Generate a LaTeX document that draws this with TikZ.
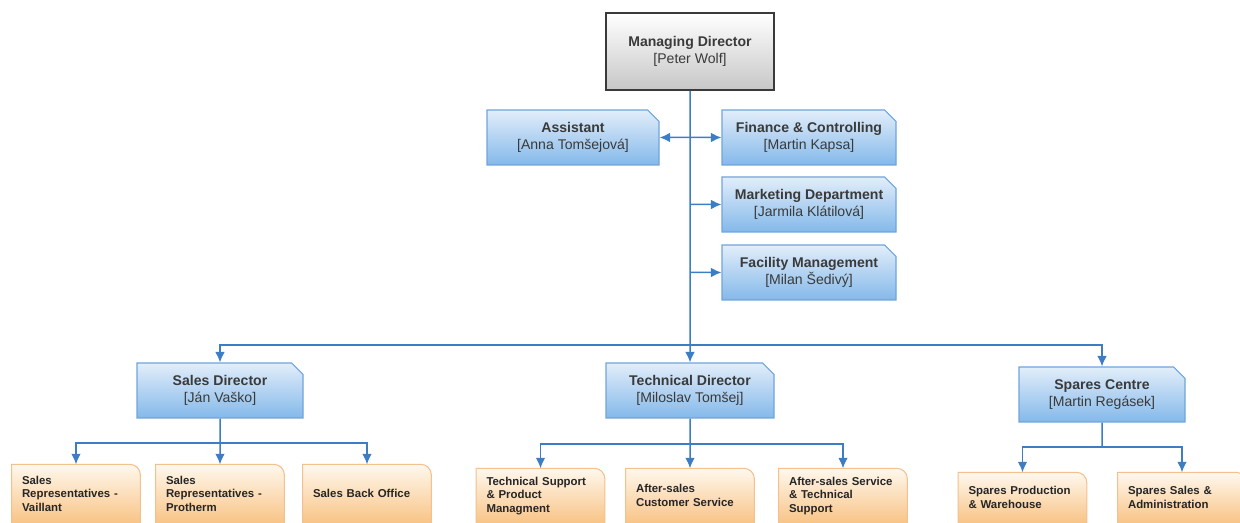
\documentclass[tikz,border=0pt]{standalone}
\usepackage{fontspec}
\setmainfont{Liberation Sans}
\usetikzlibrary{arrows.meta,positioning,shapes.misc,backgrounds}
\definecolor{ink}{HTML}{3A3A3A}
\definecolor{lineBlue}{HTML}{3C7DC4}
\definecolor{edgeBlue}{HTML}{6FA5DC}
\definecolor{topBlue}{HTML}{E2EEFA}
\definecolor{botBlue}{HTML}{84B8EA}
\definecolor{edgeOrange}{HTML}{F3C08E}
\definecolor{topOrange}{HTML}{FFF8EE}
\definecolor{botOrange}{HTML}{F8C486}
\newcommand{\who}[2]{\textbf{#1}\\{}[#2]}

\begin{document}
\begin{tikzpicture}[>={Latex[length=6pt,width=5.5pt]},
  link/.style={lineBlue,line width=0.85pt},
  head/.style={draw=ink,line width=0.9pt,top color=white,bottom color=black!22,minimum width=3.36cm,minimum height=1.54cm,align=center,text=ink,font=\fontsize{8}{9.6}\selectfont},
  unit/.style={chamfered rectangle,chamfered rectangle corners=north east,chamfered rectangle xsep=3pt,draw=edgeBlue,line width=0.6pt,top color=topBlue,bottom color=botBlue,minimum width=3.36cm,minimum height=1.1cm,align=center,text=ink,font=\fontsize{8}{9.6}\selectfont},
  team/.style={anchor=south,text width=2.16cm,inner xsep=0.2cm,inner ysep=0pt,align=left,text=black!85,font=\bfseries\fontsize{6.5}{7.7}\selectfont}]
\useasboundingbox (0,0) rectangle (24.8,-10.46);

% top level
\node[head] (md) at (13.8,-1.03) {\who{Managing Director}{Peter Wolf}};
\node[unit,minimum width=3.44cm] (asst) at (11.46,-2.75) {\who{Assistant}{Anna Tomšejová}};
\node[unit,minimum width=3.48cm] (fin) at (16.18,-2.75) {\who{Finance \& Controlling}{Martin Kapsa}};
\node[unit,minimum width=3.48cm] (mkt) at (16.18,-4.09) {\who{Marketing Department}{Jarmila Klátilová}};
\node[unit,minimum width=3.48cm] (fac) at (16.18,-5.45) {\who{Facility Management}{Milan Šedivý}};

% directors
\node[unit,minimum width=3.32cm] (sales) at (4.4,-7.81) {\who{Sales Director}{Ján Vaško}};
\node[unit] (tech) at (13.8,-7.81) {\who{Technical Director}{Miloslav Tomšej}};
\node[unit,minimum width=3.32cm] (spares) at (22.04,-7.89) {\who{Spares Centre}{Martin Regásek}};

% teams
\node[team,minimum height=1.16cm] (sv) at (1.52,-10.46) {Sales\\Representatives -\\Vaillant};
\node[team,minimum height=1.16cm] (sp) at (4.4,-10.46) {Sales\\Representatives -\\Protherm};
\node[team,minimum height=1.16cm] (sbo) at (7.34,-10.46) {Sales Back Office};
\node[team,minimum height=1.08cm] (tsp) at (10.81,-10.46) {Technical Support\\\& Product\\Managment};
\node[team,minimum height=1.08cm] (acs) at (13.8,-10.46) {After-sales\\Customer Service};
\node[team,minimum height=1.08cm] (ast) at (16.86,-10.46) {After-sales Service\\\& Technical\\Support};
\node[team,minimum height=1.0cm] (spw) at (20.45,-10.46) {Spares Production\\\& Warehouse};
\node[team,minimum height=1.0cm] (ssa) at (23.64,-10.46) {Spares Sales \&\\Administration};

\begin{scope}[on background layer]
\foreach \t in {sv,sp,sbo,tsp,acs,ast,spw,ssa}{
  \shade[top color=topOrange,bottom color=botOrange] (\t.south west) -- (\t.north west) -- ([xshift=-6pt]\t.north east) arc[start angle=90,end angle=0,radius=6pt] -- (\t.south east) -- cycle;
  \draw[edgeOrange,line width=0.6pt] (\t.south west) -- (\t.north west) -- ([xshift=-6pt]\t.north east) arc[start angle=90,end angle=0,radius=6pt] -- (\t.south east);
}
\end{scope}

% connectors
\coordinate (bus) at (13.8,-6.9);
\draw[link,->] (md) -- (tech);
\draw[link,->] (bus) -| (sales);
\draw[link,->] (bus) -| (spares);
\draw[link,<->] (asst) -- (fin);
\draw[link,->] (md.south |- mkt) -- (mkt);
\draw[link,->] (md.south |- fac) -- (fac);

\coordinate (sbus) at (4.4,-8.86);
\draw[link,->] (sales) -- (sp);
\draw[link,->] (sbus) -| (sv);
\draw[link,->] (sbus) -| (sbo);

\coordinate (tbus) at (13.8,-8.88);
\draw[link,->] (tech) -- (acs);
\draw[link,->] (tbus) -| (tsp);
\draw[link,->] (tbus) -| (ast);

\coordinate (cbus) at (22.04,-8.94);
\draw[link] (spares) -- (cbus);
\draw[link,->] (cbus) -| (spw);
\draw[link,->] (cbus) -| (ssa);
\end{tikzpicture}
\end{document}
